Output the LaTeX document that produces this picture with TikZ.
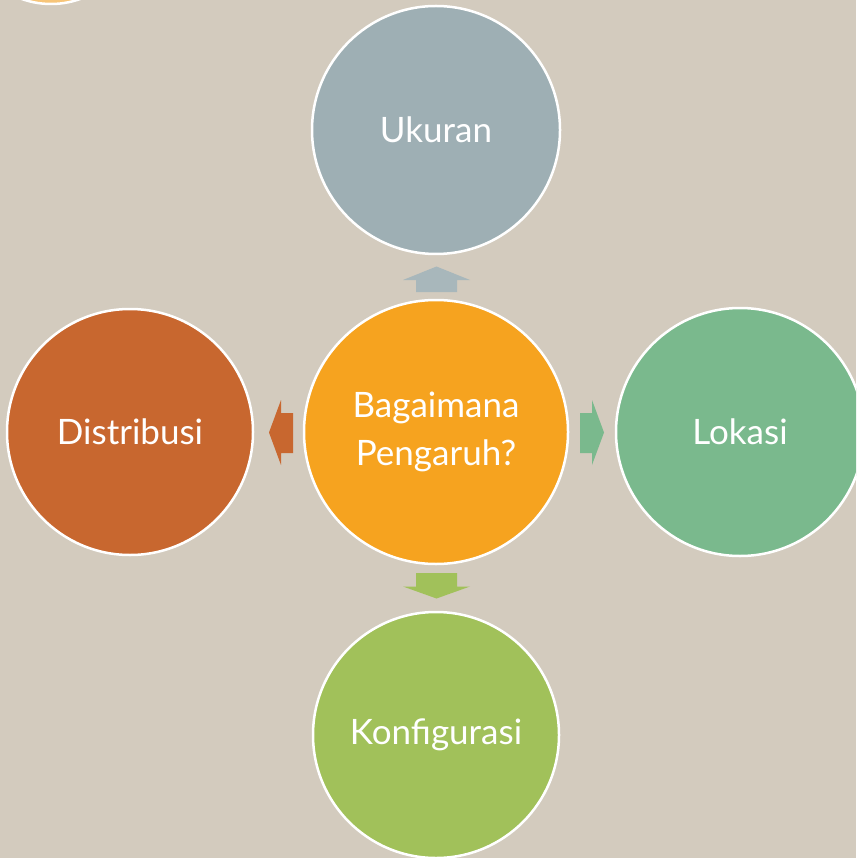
\documentclass[tikz,border=0pt]{standalone}
\usepackage{fontspec}
\setmainfont{Lato}
\begin{document}
\begin{tikzpicture}[x=1pt,y=-1pt,
  bubble/.style={circle,draw=white,line width=2.5pt,minimum size=#1,inner sep=0pt,text=white,font=\fontsize{35}{48}\selectfont,align=center},
  arr/.style={fill=#1,draw=none}]
\definecolor{bg}{HTML}{D3CBBE}
\definecolor{cTop}{HTML}{9EAFB4}
\definecolor{cLeft}{HTML}{C8672F}
\definecolor{cMid}{HTML}{F6A31F}
\definecolor{cRight}{HTML}{7AB98D}
\definecolor{cBot}{HTML}{A1C15A}
\definecolor{cPeek}{HTML}{F7C579}
\fill[bg] (0,0) rectangle (856,858);
\useasboundingbox (0,0) rectangle (856,858);
\begin{scope}
\clip (0,0) rectangle (856,858);
\node[bubble=174pt,fill=cPeek] (peek) at (51,-83) {};
\node[bubble=264pt,fill=cMid] (mid) at (436,432) {Bagaimana\\Pengaruh?};
\node[bubble=248pt,fill=cTop] (top) at (436,130) {Ukuran};
\node[bubble=246pt,fill=cLeft] (left) at (130,432) {Distribusi};
\node[bubble=248pt,fill=cRight] (right) at (740,432) {Lokasi};
\node[bubble=246pt,fill=cBot] (bot) at (436,735) {Konfigurasi};
\end{scope}
% arrows
\fill[arr=cTop!90!white] (416,292) -- (416,280) -- (403,280) -- (436.5,266.5) -- (470,280) -- (457,280) -- (457,292) -- cycle;
\fill[arr=cLeft] (293,413) -- (281,413) -- (281,400) -- (269,432.5) -- (281,465) -- (281,453) -- (293,453) -- cycle;
\fill[arr=cRight] (580,413) -- (592,413) -- (592,400) -- (604,432.5) -- (592,465) -- (592,453) -- (580,453) -- cycle;
\fill[arr=cBot] (416,573) -- (416,586.5) -- (403,586.5) -- (436.5,598.5) -- (470,586.5) -- (457,586.5) -- (457,573) -- cycle;
\end{tikzpicture}
\end{document}
